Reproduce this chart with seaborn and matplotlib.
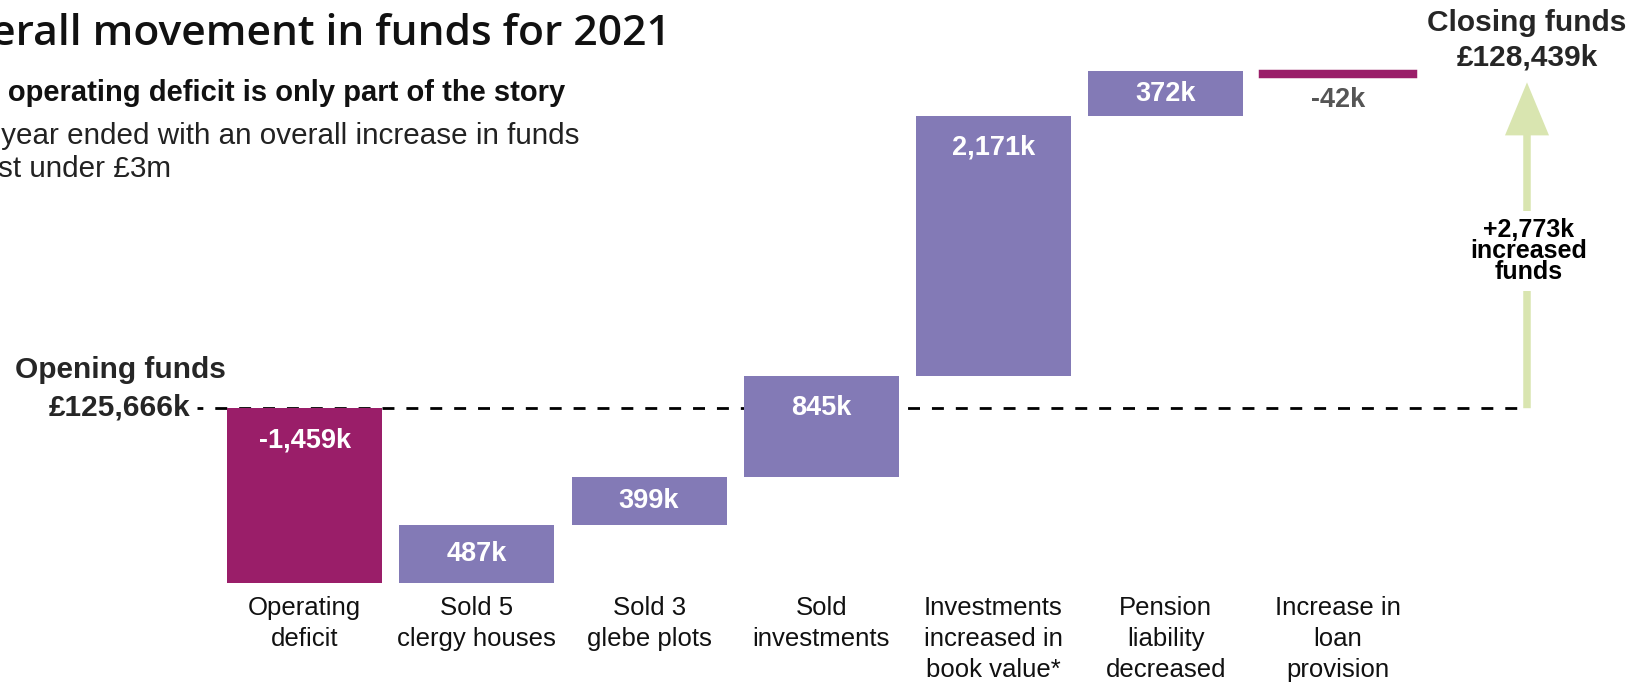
import matplotlib

matplotlib.use("Agg")
import matplotlib.pyplot as plt
import matplotlib.transforms as mtransforms
import numpy as np
import pandas as pd
import seaborn as sns

# Waterfall data (all values in £k)
steps = [
    "Operating\ndeficit",
    "Sold 5\nclergy houses",
    "Sold 3\nglebe plots",
    "Sold\ninvestments",
    "Investments\nincreased in\nbook value*",
    "Pension\nliability\ndecreased",
    "Increase in\nloan\nprovision",
]
changes = [-1459, 487, 399, 845, 2171, 372, -42]
value_labels = ["-1,459k", "487k", "399k", "845k", "2,171k", "372k", "-42k"]
opening_funds = 125666
closing_funds = 128439
opening_label = "£125,666k"
closing_label = "£128,439k"
increase_label = "+2,773k\nincreased\nfunds"

title = "Overall movement in funds for 2021"
subtitle = "The operating deficit is only part of the story"
body_lines = ["The year ended with an overall increase in funds", "just under £3m"]

# Colours
_PURPLE = "#837AB6"
_MAGENTA = "#9A1E69"
_GREEN = "#D9E5B0"
_GREY = "#555555"

# Layout (pixels of the 1633 x 686 canvas)
_W, _H, _DPI = 1633, 686, 100
_X0_PX, _STEP_PX = 304.7, 172.2  # centre of first bar, bar spacing
_Y0_PX, _PX_PER_K = 408.2, 0.11966  # opening level row, pixels per £k


def fy(px):
    """Pixel row -> axes fraction."""
    return 1 - px / _H


def fx(px):
    return px / _W


def k(px):
    """Pixel distance -> £k."""
    return px / _PX_PER_K


sns.set_theme(style="white")
plt.rcParams["font.family"] = ["Liberation Sans", "DejaVu Sans"]

bases = opening_funds + np.cumsum(changes) - np.array(changes)
df = pd.DataFrame({"step": steps, "change": changes, "base": bases})

fig = plt.figure(figsize=(_W / _DPI, _H / _DPI), dpi=_DPI)
ax = fig.add_axes([0, 0, 1, 1])

sns.barplot(
    data=df,
    x="step",
    y="change",
    bottom=df["base"].to_numpy(),
    color=_PURPLE,
    saturation=1,
    width=0.9,
    errorbar=None,
    ax=ax,
    zorder=2,
)
for patch, ch in zip(ax.patches, changes):
    colour = _MAGENTA if ch < 0 else _PURPLE
    patch.set_facecolor(colour)
    if abs(ch) * _PX_PER_K < 15:
        # very small step: give it a visible thickness
        patch.set_edgecolor(colour)
        patch.set_linewidth(2.5)
    else:
        patch.set_linewidth(0)

ax.set_xlim(-_X0_PX / _STEP_PX, (_W - _X0_PX) / _STEP_PX)
ax.set_ylim(opening_funds - k(_H - _Y0_PX), opening_funds + k(_Y0_PX))
ax.set_axis_off()

blend = mtransforms.blended_transform_factory(ax.transData, ax.transAxes)

# Value labels on the bars
for i, (b, ch, lab) in enumerate(zip(bases, changes, value_labels)):
    upper, lower = max(b, b + ch), min(b, b + ch)
    if abs(ch) * _PX_PER_K < 15:
        ax.text(i, lower - k(24), lab, ha="center", va="center",
                fontsize=19.5, fontweight="bold", color=_GREY)
    else:
        y = upper - min(k(32), abs(ch) / 2)
        ax.text(i, y, lab, ha="center", va="center",
                fontsize=19.5, fontweight="bold", color="white", zorder=3)

# Category labels under the bars
for i, lab in enumerate(steps):
    ax.text(i, fy(596), lab, transform=blend, ha="center", va="top",
            fontsize=18.5, linespacing=1.37, color="#111111")

# Opening funds reference line
arrow_x = (1527 - _X0_PX) / _STEP_PX
ax.plot(
    [(197 - _X0_PX) / _STEP_PX, arrow_x],
    [opening_funds, opening_funds],
    color="black",
    lw=2.0,
    linestyle=(2.2, (4.3, 4.3)),
    zorder=1,
)

# Increase arrow
tip = closing_funds - k(6)
ax.arrow(
    arrow_x,
    opening_funds,
    0,
    tip - opening_funds,
    width=7.5 / _STEP_PX,
    head_width=44 / _STEP_PX,
    head_length=k(53),
    length_includes_head=True,
    color=_GREEN,
    lw=0,
    zorder=1,
)
ax.text(
    (1529 - _X0_PX) / _STEP_PX, fy(251), increase_label, transform=blend,
    ha="center", va="center", fontsize=18, fontweight="bold",
    linespacing=0.85, color="black",
    bbox=dict(facecolor="white", edgecolor="none", pad=5),
    zorder=4,
)

# Opening / closing annotations
ax.text(fx(226), fy(378), "Opening funds", transform=ax.transAxes,
        ha="right", va="baseline", fontsize=21.5, fontweight="bold")
ax.text(fx(190), fy(416), opening_label, transform=ax.transAxes,
        ha="right", va="baseline", fontsize=21.5, fontweight="bold")
ax.text(fx(1527), fy(31), "Closing funds", transform=ax.transAxes,
        ha="center", va="baseline", fontsize=21.5, fontweight="bold")
ax.text(fx(1527), fy(66), closing_label, transform=ax.transAxes,
        ha="center", va="baseline", fontsize=21.5, fontweight="bold")

# Headings (left edge runs off the canvas as in the original)
fig.text(fx(671), fy(45), title, ha="right", va="baseline",
         fontsize=30.6, fontweight="semibold", family=["Open Sans", "DejaVu Sans"],
         color="#111111")
fig.text(fx(565), fy(101), subtitle, ha="right", va="baseline",
         fontsize=21, fontweight="bold", color="#111111")
fig.text(fx(580), fy(144), body_lines[0], ha="right", va="baseline",
         fontsize=21.3, color="#222222")
fig.text(fx(172), fy(177), body_lines[1], ha="right", va="baseline",
         fontsize=21.3, color="#222222")

fig.savefig("out.png", dpi=_DPI)
plt.close(fig)
